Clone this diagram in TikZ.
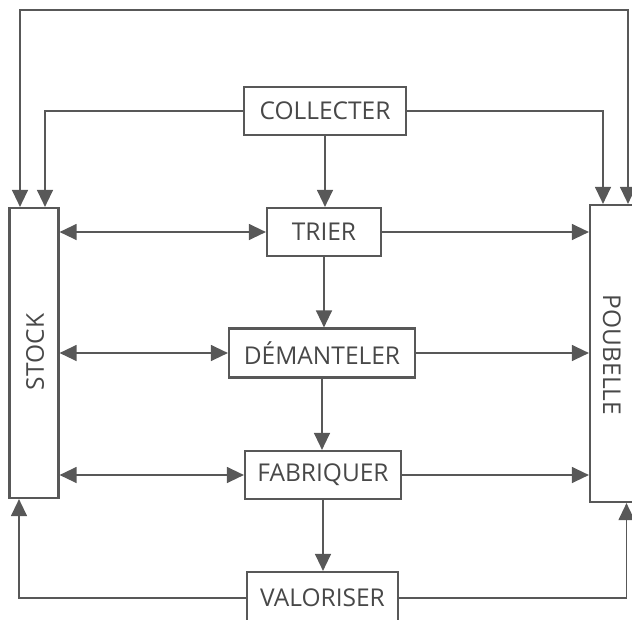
\documentclass[tikz,border=0pt]{standalone}
\usepackage{fontspec}
\setmainfont{Open Sans}
\usetikzlibrary{arrows.meta}
\definecolor{ln}{HTML}{585858}
\definecolor{tx}{HTML}{484848}
\tikzset{
  lbl/.style={text=tx, font=\fontsize{24.5}{28}\selectfont},
  box/.style={draw=ln, line width=2.2pt, fill=white, inner sep=0pt, lbl},
  conn/.style={draw=ln, line width=1.3pt, arrows={-Triangle[length=17pt,width=16pt]}},
  dconn/.style={draw=ln, line width=1.3pt, arrows={Triangle[length=17pt,width=16pt]-Triangle[length=17pt,width=16pt]}},
}
\begin{document}
\begin{tikzpicture}[x=1pt,y=-1pt]
\useasboundingbox (0,0) rectangle (632,619);
\clip (0,0) rectangle (632,619);
\node[box, minimum width=49pt, minimum height=290pt] (stock) at (34,353) {};
\node[rotate=90, lbl] (stocklbl) at (35,352) {STOCK};
\node[box, minimum width=49pt, minimum height=297pt] (poubelle) at (614.5,353.5) {};
\node[rotate=-90, lbl] (poublbl) at (612,355) {POUBELLE};
\node[box, minimum width=162pt, minimum height=48pt] (collecter) at (325,111) {COLLECTER};
\node[box, minimum width=114pt, minimum height=48pt] (trier) at (324,232) {TRIER};
\node[box, minimum width=186pt, minimum height=49pt] (demanteler) at (322,353) {DÉMANTELER};
\node[box, minimum width=156pt, minimum height=48pt] (fabriquer) at (323,475) {FABRIQUER};
\node[box, minimum width=151pt, minimum height=52pt] (valoriser) at (322.5,598) {VALORISER};
\coordinate (toploop) at (325,10);
% top loop
\draw[dconn] ([xshift=-14pt]stock.north) |- (toploop) -| ([xshift=13.5pt]poubelle.north);
% collecter branches
\draw[conn] (collecter.west) -| ([xshift=11pt]stock.north);
\draw[conn] (collecter.east) -| ([xshift=-11.5pt]poubelle.north);
% vertical chain
\draw[conn] (collecter.south) -- (collecter.south |- trier.north);
\draw[conn] (trier.south) -- (trier.south |- demanteler.north);
\draw[conn] (demanteler.south) -- (demanteler.south |- fabriquer.north);
\draw[conn] (fabriquer.south) -- (fabriquer.south |- valoriser.north);
% stock exchanges
\draw[dconn] (stock.east |- trier.west) -- (trier.west);
\draw[dconn] (stock.east |- demanteler.west) -- (demanteler.west);
\draw[dconn] (stock.east |- fabriquer.west) -- (fabriquer.west);
% to poubelle
\draw[conn] (trier.east) -- (trier.east -| poubelle.west);
\draw[conn] (demanteler.east) -- (demanteler.east -| poubelle.west);
\draw[conn] (fabriquer.east) -- (fabriquer.east -| poubelle.west);
% valoriser returns
\draw[conn] (valoriser.west) -| ([xshift=-15pt]stock.south);
\draw[conn] (valoriser.east) -| ([xshift=12pt]poubelle.south);
\end{tikzpicture}
\end{document}
